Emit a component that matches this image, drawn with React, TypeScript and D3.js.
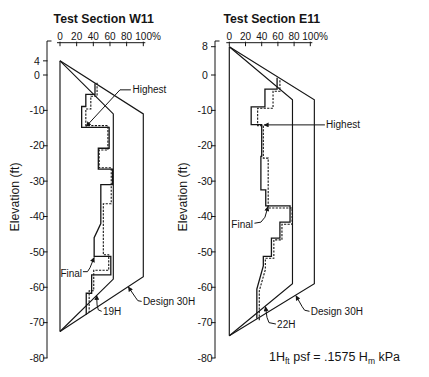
import React from "react";
import * as d3 from "d3";

type P = [number, number];

const xTicks = [0, 20, 40, 60, 80, 100];
const xTickLabels = ["0", "20", "40", "60", "80", "100%"];
const w11YTicks = [4, 0, -10, -20, -30, -40, -50, -60, -70, -80];
const e11YTicks = [8, 0, -10, -20, -30, -40, -50, -60, -70, -80];

// Test Section W11 (x: % , y: elevation ft)
const w11Base: P[] = [[0, 4], [0, -72.5]];
const w11Design: P[] = [[0, 4], [100, -11], [100, -57], [0, -72.5]];
const w11At19H: P[] = [[0, 4], [64, -11], [64, -57.7], [0, -72.5]];
const w11Final: P[] = [
  [42, -2.4], [42, -5.5], [31, -5.5], [31, -8.9], [26, -8.9], [26, -14.8], [59, -14.8], [59, -20.7],
  [46, -20.7], [46, -26.6], [63, -26.6], [63, -31], [49, -31], [49, -42], [41, -46], [41, -51.3],
  [61, -51.3], [61, -56.5], [38, -56.5], [38, -61.7], [31.5, -61.7], [31.5, -67.8],
];
const w11Highest: P[] = [
  [44.5, -2.2], [44.5, -6], [37, -6], [37, -9.6], [31, -9.6], [31, -14.3], [57.5, -14.3], [57.5, -21.2],
  [47, -21.2], [47, -26.2], [61.5, -26.2], [61.5, -36.4], [52, -36.4], [52, -50.8], [58.5, -50.8],
  [58.5, -55.2], [40.5, -55.2], [40.5, -61], [35, -61], [35, -67],
];

// Test Section E11
const e11Base: P[] = [[0, 8], [0, -73.7]];
const e11Design: P[] = [[0, 8], [105, -7], [105, -59], [0, -73.7]];
const e11At22H: P[] = [[0, 8], [78, -7], [78, -59], [0, -73.7]];
const e11Final: P[] = [
  [59, -0.8], [59, -4], [44, -4], [44, -9], [27, -9], [27, -14], [40, -14], [40, -23], [39, -23],
  [39, -32.5], [45, -32.5], [45, -37], [75, -37], [75, -41.6], [62.5, -41.6], [62.5, -46.1], [52, -46.1],
  [52, -51.3], [42, -51.3], [42, -54], [34, -60.5], [34, -68.8],
];
const e11Highest: P[] = [
  [62.5, -1.5], [62.5, -4.6], [54, -4.6], [54, -9.4], [35, -9.4], [35, -14.3], [42, -14.3], [42, -23.5],
  [48, -23.5], [48, -37.6], [77.5, -37.6], [77.5, -42.2], [65, -42.2], [65, -46.6], [55, -46.6],
  [55, -51.8], [44.5, -51.8], [44.5, -55], [37, -61], [37, -69.5],
];

type Ann = { label: string; text: P; anchor: "start" | "end"; path: P[] };
const w11Notes: Ann[] = [
  { label: "Highest", text: [87, -4.2], anchor: "start", path: [[85, -4.2], [72, -4.2], [31.5, -14.5]] },
  { label: "Final", text: [26.5, -56], anchor: "end", path: [[27.5, -55.6], [33, -55.6], [36, -54.5], [41, -51.6]] },
  { label: "19H", text: [51.5, -66.9], anchor: "start", path: [[50, -66.8], [46, -66.4], [44.5, -65], [44, -62.3]] },
  { label: "Design 30H", text: [99.5, -64], anchor: "start", path: [[98, -64], [93.5, -63.8], [91, -63], [82, -59.9]] },
];
const e11Notes: Ann[] = [
  { label: "Highest", text: [119.5, -14.1], anchor: "start", path: [[118, -14.1], [43, -14.1]] },
  { label: "Final", text: [29.3, -42.2], anchor: "end", path: [[31, -41.9], [39, -41.6], [44, -40.2], [47.8, -37.2]] },
  { label: "22H", text: [59, -70.6], anchor: "start", path: [[57.5, -70.4], [49, -70], [46.5, -68.5], [44.7, -65.5]] },
  { label: "Design 30H", text: [100.5, -66.9], anchor: "start", path: [[99, -66.8], [93, -66.5], [90, -65.5], [82.3, -62.4]] },
];

const FONT = "'Liberation Sans', Arial, sans-serif";
const INK = "#151515";

function Panel(props: {
  title: string;
  x0: number;
  x100: number;
  axisX: number;
  yTicks: number[];
  base: P[];
  design: P[];
  inner: P[];
  final: P[];
  highest: P[];
  notes: Ann[];
  id: string;
}) {
  const x = d3.scaleLinear().domain([0, 100]).range([props.x0, props.x100]);
  const y = d3.scaleLinear().domain([0, -80]).range([75, 358]);
  const line = d3.line<P>().x((d) => x(d[0])).y((d) => y(d[1]));
  const axisTop = 42.7;
  const ax = props.axisX;
  const sw = 1.15;
  return (
    <g>
      <text x={(props.x0 + props.x100) / 2 + 2} y={23} textAnchor="middle" fontFamily={FONT} fontWeight="bold" fontSize={12.3} fill={INK}>
        {props.title}
      </text>
      {/* top x axis */}
      <line x1={x(0) - 3} x2={x(100) + 2} y1={axisTop} y2={axisTop} stroke={INK} strokeWidth={1} />
      {xTicks.map((t, i) => (
        <g key={t}>
          <line x1={x(t)} x2={x(t)} y1={axisTop - 1} y2={axisTop + 3.5} stroke={INK} strokeWidth={1} />
          <text x={i === xTicks.length - 1 ? x(t) - 8 : x(t)} y={39.5} textAnchor={i === xTicks.length - 1 ? "start" : "middle"} fontFamily={FONT} fontSize={10} fill={INK}>
            {xTickLabels[i]}
          </text>
        </g>
      ))}
      {/* left y axis */}
      <line x1={ax} x2={ax} y1={41} y2={y(-80)} stroke={INK} strokeWidth={1} />
      <line x1={ax} x2={ax + 4.5} y1={41} y2={41} stroke={INK} strokeWidth={1} />
      {props.yTicks.map((t) => (
        <g key={t}>
          <line x1={ax - 4} x2={ax + 0.5} y1={y(t)} y2={y(t)} stroke={INK} strokeWidth={1} />
          <text x={ax - 10} y={y(t)} dy="0.35em" textAnchor="middle" fontFamily={FONT} fontSize={10.5} fill={INK}>
            {t}
          </text>
        </g>
      ))}
      <text
        transform={`translate(${ax - 28},197) rotate(-90)`}
        textAnchor="middle"
        fontFamily={FONT}
        fontSize={12.3}
        fill={INK}
      >
        Elevation  (ft)
      </text>
      {/* envelopes */}
      <path d={line(props.base) ?? ""} fill="none" stroke={INK} strokeWidth={sw} />
      <path d={line(props.design) ?? ""} fill="none" stroke={INK} strokeWidth={sw} />
      <path d={line(props.inner) ?? ""} fill="none" stroke={INK} strokeWidth={sw} />
      {/* measured */}
      <path d={line(props.highest) ?? ""} fill="none" stroke={INK} strokeWidth={1.1} strokeDasharray="2.2,1.3" />
      <path d={line(props.final) ?? ""} fill="none" stroke={INK} strokeWidth={1.3} />
      {/* annotations */}
      {props.notes.map((n) => (
        <g key={n.label}>
          <path d={line(n.path) ?? ""} fill="none" stroke={INK} strokeWidth={1} markerEnd={`url(#arr-${props.id})`} />
          <text x={x(n.text[0])} y={y(n.text[1])} dy="0.35em" textAnchor={n.anchor} fontFamily={FONT} fontSize={10} fill={INK}>
            {n.label}
          </text>
        </g>
      ))}
    </g>
  );
}

export default function App() {
  return (
    <svg width={429} height={377} style={{ position: "absolute", left: 0, top: 0, background: "#fff" }}>
      <defs>
        {["w", "e"].map((id) => (
          <marker key={id} id={`arr-${id}`} viewBox="0 0 10 10" refX={9} refY={5} markerWidth={6} markerHeight={5} markerUnits="userSpaceOnUse" orient="auto">
            <path d="M0,0 L10,5 L0,10 z" fill={INK} />
          </marker>
        ))}
      </defs>
      <rect x={0} y={0} width={429} height={377} fill="#fff" />
      <Panel
        id="w"
        title="Test Section W11"
        x0={60}
        x100={143.3}
        axisX={47}
        yTicks={w11YTicks}
        base={w11Base}
        design={w11Design}
        inner={w11At19H}
        final={w11Final}
        highest={w11Highest}
        notes={w11Notes}
      />
      <Panel
        id="e"
        title="Test Section E11"
        x0={229.3}
        x100={310.3}
        axisX={215}
        yTicks={e11YTicks}
        base={e11Base}
        design={e11Design}
        inner={e11At22H}
        final={e11Final}
        highest={e11Highest}
        notes={e11Notes}
      />
      <text x={269} y={361} fontFamily={FONT} fontSize={12.5} fill={INK}>
        1H<tspan fontSize={8.5} dy={3}>ft</tspan>
        <tspan dy={-3}> psf = .1575 H</tspan>
        <tspan fontSize={8.5} dy={3}>m</tspan>
        <tspan dy={-3}> kPa</tspan>
      </text>
    </svg>
  );
}
